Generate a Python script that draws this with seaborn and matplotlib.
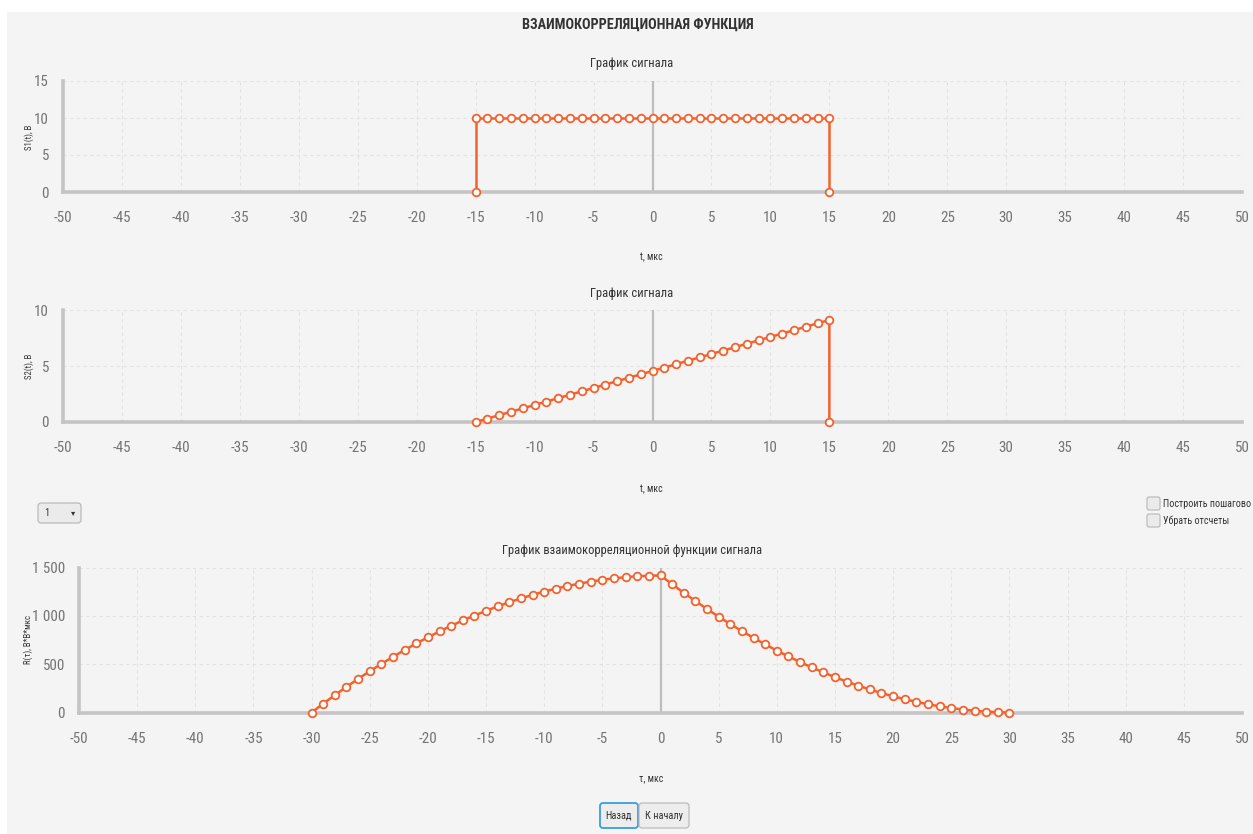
import matplotlib
matplotlib.use("Agg")
import matplotlib.pyplot as plt
from matplotlib.transforms import Affine2D
from matplotlib.patches import Rectangle, FancyBboxPatch
from matplotlib.ticker import MultipleLocator, FuncFormatter
import seaborn as sns
import pandas as pd

# --- signal S1: rectangular pulse, t in µs, amplitude in V ---
s1_t = [-15, -15, -14, -13, -12, -11, -10, -9, -8, -7, -6, -5, -4, -3, -2, -1, 0,
        1, 2, 3, 4, 5, 6, 7, 8, 9, 10, 11, 12, 13, 14, 15, 15]
s1_v = [0, 10, 10, 10, 10, 10, 10, 10, 10, 10, 10, 10, 10, 10, 10, 10, 10,
        10, 10, 10, 10, 10, 10, 10, 10, 10, 10, 10, 10, 10, 10, 10, 0]

# --- signal S2: linear ramp ---
s2_t = [-15, -14, -13, -12, -11, -10, -9, -8, -7, -6, -5, -4, -3, -2, -1, 0,
        1, 2, 3, 4, 5, 6, 7, 8, 9, 10, 11, 12, 13, 14, 15, 15]
s2_v = [0.00, 0.31, 0.61, 0.92, 1.22, 1.53, 1.83, 2.14, 2.44, 2.75, 3.05, 3.36,
        3.66, 3.97, 4.27, 4.58, 4.88, 5.19, 5.49, 5.80, 6.10, 6.41, 6.71, 7.02,
        7.32, 7.63, 7.93, 8.24, 8.54, 8.85, 9.15, 0]

# --- cross-correlation R(tau), V*V*µs ---
r_tau = [-30, -29, -28, -27, -26, -25, -24, -23, -22, -21, -20, -19, -18, -17,
         -16, -15, -14, -13, -12, -11, -10, -9, -8, -7, -6, -5, -4, -3, -2, -1,
         0, 1, 2, 3, 4, 5, 6, 7, 8, 9, 10, 11, 12, 13, 14, 15, 16, 17, 18, 19,
         20, 21, 22, 23, 24, 25, 26, 27, 28, 29, 30]
r_v = [0, 92, 180, 265, 348, 427, 503, 576, 647, 714, 778, 839, 897, 952, 1003,
       1052, 1098, 1141, 1180, 1217, 1251, 1281, 1308, 1333, 1354, 1373, 1388,
       1400, 1409, 1415, 1418, 1327, 1238, 1153, 1071, 991, 915, 842, 772, 705,
       641, 580, 522, 467, 415, 366, 320, 278, 238, 201, 168, 137, 110, 85, 64,
       46, 31, 18, 9, 3, 0]

TITLE = "ВЗАИМОКОРРЕЛЯЦИОННАЯ ФУНКЦИЯ"
SUB1 = "График сигнала"
SUB2 = "График сигнала"
SUB3 = "График взаимокорреляционной функции сигнала"

ORANGE = "#f3622d"
PANEL = "#f4f4f4"
AXIS = "#c4c4c4"
TICK = "#c4c4c4"
GRID = "#e2e2e2"
ZERO = "#bdbdbd"
LABEL = "#737373"
DARK = "#333333"

sns.set_style("white")
plt.rcParams["font.family"] = ["Roboto Condensed", "Roboto", "DejaVu Sans"]
plt.rcParams["axes.unicode_minus"] = False

W, H = 1253, 834
fig = plt.figure(figsize=(W / 100, H / 100), dpi=100)
fig.patch.set_facecolor("white")
pix = Affine2D().scale(1 / W, -1 / H).translate(0, 1) + fig.transFigure

fig.add_artist(Rectangle((7, 12), W - 7, H - 12, transform=pix,
                         facecolor=PANEL, edgecolor="none", zorder=0))


def make_axes(left, top, right, bottom):
    return fig.add_axes([left / W, 1 - bottom / H, (right - left) / W, (bottom - top) / H])


def style(ax, ymax, ymajor, yminor):
    ax.set_xlim(-50, 50)
    ax.set_ylim(0, ymax)
    ax.set_facecolor("none")
    for s in ("top", "right"):
        ax.spines[s].set_visible(False)
    for s in ("left", "bottom"):
        ax.spines[s].set_color(AXIS)
        ax.spines[s].set_linewidth(2.6)
        ax.spines[s].set_zorder(3)
    ax.xaxis.set_major_locator(MultipleLocator(5))
    ax.xaxis.set_minor_locator(MultipleLocator(1))
    ax.yaxis.set_major_locator(MultipleLocator(ymajor))
    ax.yaxis.set_minor_locator(MultipleLocator(yminor))
    ax.tick_params(which="major", length=7, width=1, color=TICK,
                   labelcolor=LABEL, labelsize=10.8)
    ax.tick_params(axis="x", which="major", pad=7)
    ax.tick_params(axis="y", which="major", pad=3)
    ax.tick_params(which="minor", length=4, width=1, color=TICK)
    ax.grid(True, which="major", linestyle=(0, (3, 3)), color=GRID, linewidth=0.8)
    ax.set_axisbelow(True)
    ax.axvline(0, color=ZERO, lw=1.6, zorder=2)


def draw_series(ax, x, y):
    df = pd.DataFrame({"x": x, "y": y})
    sns.lineplot(data=df, x="x", y="y", sort=False, estimator=None, ax=ax,
                 color=ORANGE, lw=1.8, marker="o", markersize=5.5,
                 markerfacecolor="white", markeredgecolor=ORANGE,
                 markeredgewidth=1.3, clip_on=False, zorder=5)


def labels(ax, xlabel, xl_pos, ylabel, yl_pos, title, title_x):
    ax.set_xlabel(xlabel, fontsize=7, color=DARK)
    ax.xaxis.label.set_va("center")
    ax.xaxis.set_label_coords(xl_pos[0] / W, 1 - xl_pos[1] / H, transform=fig.transFigure)
    ax.set_ylabel(ylabel, fontsize=6.3, color=DARK)
    ax.yaxis.label.set_va("center")
    ax.yaxis.set_label_coords(yl_pos[0] / W, 1 - yl_pos[1] / H, transform=fig.transFigure)
    ax.set_title(title, fontsize=9, color=DARK, pad=10)
    bbox = ax.get_position()
    ax.title.set_x((title_x / W - bbox.x0) / bbox.width)


# chart 1
ax1 = make_axes(63, 81, 1242, 192)
draw_series(ax1, s1_t, s1_v)
style(ax1, 15, 5, 1)
labels(ax1, "t, мкс", (651, 257), "S1(t), В", (29, 137), SUB1, 632)

# chart 2
ax2 = make_axes(63, 310.5, 1242, 422)
draw_series(ax2, s2_t, s2_v)
style(ax2, 10, 5, 1)
labels(ax2, "t, мкс", (651, 489), "S2(t), В", (29, 366), SUB2, 632)

# chart 3
ax3 = make_axes(79, 567.5, 1242, 712.5)
draw_series(ax3, r_tau, r_v)
style(ax3, 1500, 500, 100)
ax3.yaxis.set_major_formatter(FuncFormatter(lambda v, p: f"{v:,.0f}".replace(",", " ")))
labels(ax3, "τ, мкс", (651, 778), "R(τ), В*В*мкс", (28, 640), SUB3, 632)

fig.text(638 / W, 1 - 25 / H, TITLE, ha="center", va="center",
         fontsize=10.3, fontweight="bold", color=DARK)

# controls: selector, check boxes, navigation buttons
fig.add_artist(FancyBboxPatch((38, 503), 43, 20, boxstyle="round,pad=0,rounding_size=3",
                              transform=pix, facecolor="#ebebeb", edgecolor="#b5b5b5", lw=0.8))
fig.text(44 / W, 1 - 513 / H, "1", ha="left", va="center", fontsize=7.5, color=DARK)
fig.text(73 / W, 1 - 513 / H, "▾", ha="center", va="center", fontsize=6, color=DARK,
         family="DejaVu Sans")

for yy, txt in ((497, "Построить пошагово"), (514, "Убрать отсчеты")):
    fig.add_artist(FancyBboxPatch((1147, yy), 13, 13, boxstyle="round,pad=0,rounding_size=2",
                                  transform=pix, facecolor="#ebebeb", edgecolor="#b8b8b8", lw=0.8))
    fig.text(1163 / W, 1 - (yy + 7) / H, txt, ha="left", va="center", fontsize=7.2, color=DARK)

fig.add_artist(FancyBboxPatch((600, 803), 38, 25, boxstyle="round,pad=0,rounding_size=3",
                              transform=pix, facecolor="#ededed", edgecolor="#3d9be0", lw=1.3))
fig.text(619 / W, 1 - 816 / H, "Назад", ha="center", va="center", fontsize=7.5, color=DARK)
fig.add_artist(FancyBboxPatch((639, 803), 50, 25, boxstyle="round,pad=0,rounding_size=3",
                              transform=pix, facecolor="#ededed", edgecolor="#b5b5b5", lw=0.8))
fig.text(664 / W, 1 - 816 / H, "К началу", ha="center", va="center", fontsize=7.5, color=DARK)

fig.savefig("out.png", dpi=100, facecolor=fig.get_facecolor())
